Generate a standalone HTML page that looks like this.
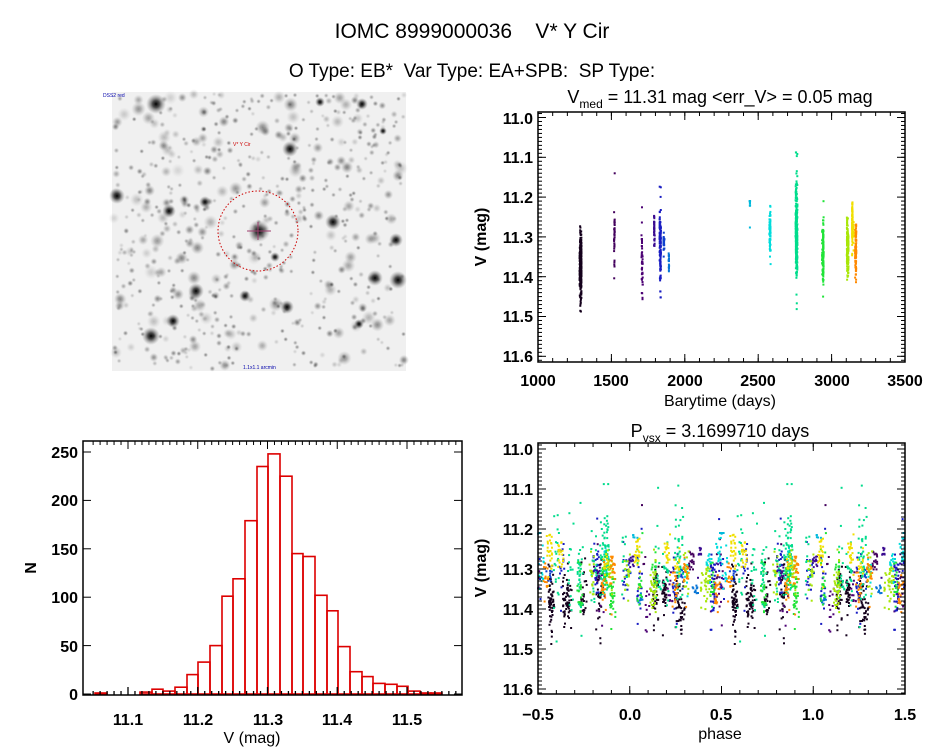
<!DOCTYPE html>
<html><head><meta charset="utf-8"><style>
html,body{margin:0;padding:0;background:#fff;}
svg{display:block;font-family:"Liberation Sans",sans-serif;}
.t{font-size:16px;fill:#000;}
</style></head><body>
<svg id="s" width="944" height="747" viewBox="0 0 944 747" xmlns="http://www.w3.org/2000/svg">
<defs>
<radialGradient id="st"><stop offset="0" stop-color="#000" stop-opacity="1"/><stop offset="0.35" stop-color="#222" stop-opacity="0.8"/><stop offset="1" stop-color="#888" stop-opacity="0"/></radialGradient>
</defs>
<rect width="944" height="747" fill="#fff"/>
<text x="472" y="38" text-anchor="middle" font-size="21" style="white-space:pre">IOMC 8999000036    V* Y Cir</text>
<text x="472" y="77" text-anchor="middle" font-size="19" style="white-space:pre">O Type: EB*  Var Type: EA+SPB:  SP Type:</text>
<rect x="112" y="92" width="294" height="279" fill="#f0f0f0"/>
<g id="stars"></g>
<circle cx="258" cy="231" r="40" fill="none" stroke="#c00" stroke-width="1" stroke-dasharray="1.5,2"/>
<line x1="247" y1="231" x2="271" y2="231" stroke="#a04070" stroke-width="1"/>
<line x1="258" y1="222" x2="258" y2="240" stroke="#a04070" stroke-width="1"/>
<text x="233" y="146" font-size="5" fill="#c00">V* Y Cir</text>
<text x="103" y="97" font-size="5" fill="#00a">DSS2 red</text>
<text x="243" y="369" font-size="5" fill="#00a">1.1x1.1 arcmin</text>

<text x="720" y="103" text-anchor="middle" font-size="18">V<tspan font-size="12" dy="5">med</tspan><tspan dy="-5"> = 11.31 mag &lt;err_V&gt; = 0.05 mag</tspan></text>
<g class="t" text-anchor="end" font-weight="bold">
<text x="533" y="124">11.0</text><text x="533" y="163">11.1</text><text x="533" y="203">11.2</text><text x="533" y="243">11.3</text><text x="533" y="283">11.4</text><text x="533" y="322">11.5</text><text x="533" y="362">11.6</text>
</g>
<g class="t" text-anchor="middle" font-weight="bold">
<text x="538" y="386">1000</text><text x="611" y="386">1500</text><text x="685" y="386">2000</text><text x="758" y="386">2500</text><text x="832" y="386">3000</text><text x="905" y="386">3500</text>
</g>
<text x="720" y="406" text-anchor="middle" class="t">Barytime (days)</text>
<text transform="translate(486,237) rotate(-90)" text-anchor="middle" class="t" font-weight="bold">V (mag)</text>

<text x="720" y="437" text-anchor="middle" font-size="18">P<tspan font-size="12" dy="5">vsx</tspan><tspan dy="-5"> = 3.1699710 days</tspan></text>
<g class="t" text-anchor="end" font-weight="bold">
<text x="533" y="455">11.0</text><text x="533" y="495">11.1</text><text x="533" y="535">11.2</text><text x="533" y="575">11.3</text><text x="533" y="615">11.4</text><text x="533" y="655">11.5</text><text x="533" y="695">11.6</text>
</g>
<g class="t" text-anchor="middle" font-weight="bold">
<text x="538" y="720">−0.5</text><text x="630" y="720">0.0</text><text x="721" y="720">0.5</text><text x="813" y="720">1.0</text><text x="905" y="720">1.5</text>
</g>
<text x="720" y="739" text-anchor="middle" class="t">phase</text>
<text transform="translate(486,568) rotate(-90)" text-anchor="middle" class="t" font-weight="bold">V (mag)</text>

<g class="t" text-anchor="end" font-weight="bold">
<text x="78" y="700">0</text><text x="78" y="652">50</text><text x="78" y="603">100</text><text x="78" y="555">150</text><text x="78" y="506">200</text><text x="78" y="458">250</text>
</g>
<g class="t" text-anchor="middle" font-weight="bold">
<text x="128" y="725">11.1</text><text x="198" y="725">11.2</text><text x="268" y="725">11.3</text><text x="337" y="725">11.4</text><text x="407" y="725">11.5</text>
</g>
<text x="252" y="743" text-anchor="middle" class="t">V (mag)</text>
<text transform="translate(36,568) rotate(-90)" text-anchor="middle" class="t" font-weight="bold">N</text>

<g id="dyn"></g>
</svg>
<script>
(function(){
var seed=12345;function r(){seed=(seed*1664525+1013904223)%4294967296;return seed/4294967296;}
function rn(){return (r()+r()+r()+r()-2)/1.15;}
var dyn=document.getElementById('dyn'),stars=document.getElementById('stars');
var h='';
var s='';
for(var i=0;i<650;i++){var x=114+r()*290,y=94+r()*275,rad=2.5+Math.pow(r(),4)*5,op=0.12+r()*0.35;
s+='<circle cx="'+x.toFixed(1)+'" cy="'+y.toFixed(1)+'" r="'+rad.toFixed(1)+'" fill="url(#st)" opacity="'+op.toFixed(2)+'"/>';}
var big=[[156,104,10],[259,231,11],[117,196,8],[290,149,8],[333,222,8],[196,291,8],[173,321,7],[151,336,9],[375,278,8],[396,240,7],[398,280,9],[169,211,7],[245,296,6],[287,307,7],[205,202,6],[362,104,6],[320,102,5],[275,257,5],[359,324,5],[383,131,4]];
big.forEach(function(b){s+='<circle cx="'+b[0]+'" cy="'+b[1]+'" r="'+b[2]+'" fill="url(#st)"/>';});
stars.innerHTML=s;
function frame(x0,y0,x1,y1){h+='<rect x="'+x0+'" y="'+y0+'" width="'+(x1-x0)+'" height="'+(y1-y0)+'" fill="none" stroke="#000" stroke-width="1.5"/>';}
function xt(x0,x1,y0,y1,v0,v1,step,len){for(var v=v0;v<=v1+1e-9;v+=step){var x=x0+(v-v0)/(v1-v0)*(x1-x0);h+='<line x1="'+x+'" y1="'+y1+'" x2="'+x+'" y2="'+(y1-len)+'" stroke="#000"/><line x1="'+x+'" y1="'+y0+'" x2="'+x+'" y2="'+(y0+len)+'" stroke="#000"/>';}}
function ytk(x0,x1,pos,len){pos.forEach(function(y){h+='<line x1="'+x0+'" y1="'+y+'" x2="'+(x0+len)+'" y2="'+y+'" stroke="#000"/><line x1="'+x1+'" y1="'+y+'" x2="'+(x1-len)+'" y2="'+y+'" stroke="#000"/>';});}
function col(f){
var stops=[[0,[0,0,0]],[0.12,[80,0,110]],[0.28,[20,30,200]],[0.42,[0,150,220]],[0.52,[0,220,220]],[0.62,[0,220,120]],[0.72,[40,230,40]],[0.82,[200,230,0]],[0.9,[255,220,0]],[0.96,[255,120,0]],[1,[220,20,0]]];
for(var i=1;i<stops.length;i++){if(f<=stops[i][0]){var a=stops[i-1],b=stops[i],t=(f-a[0])/(b[0]-a[0]);return 'rgb('+[0,1,2].map(function(k){return Math.round(a[1][k]+t*(b[1][k]-a[1][k]));}).join(',')+')';}}return 'rgb(220,20,0)';}
var TX0=538,TX1=905,TY=function(m){return 117.5+(m-11)*398;};
var BY=function(m){return 449+(m-11)*400;};
var BX=function(p){return 538+(p+0.5)*183.5;};
// [t, halfwidth, lo, hi, n, colorfrac, nights]
var cl=[[1290,6,11.25,11.51,300,0.03,10],[1520,3,11.14,11.46,40,0.1,4],[1710,5,11.21,11.54,50,0.13,5],[1795,4,11.24,11.33,35,0.18,4],[1832,5,11.15,11.49,130,0.27,8],[1858,3,11.25,11.35,25,0.32,3],[1890,3,11.32,11.40,20,0.38,2],[2445,2,11.21,11.28,15,0.47,2],[2580,5,11.2,11.37,70,0.52,5],[2760,7,11.05,11.52,260,0.6,12],[2940,6,11.21,11.45,120,0.7,7],[3110,6,11.22,11.45,150,0.8,8],[3145,5,11.18,11.37,120,0.88,6],[3165,4,11.24,11.42,110,0.95,6]];
var P=3.169971;
cl.forEach(function(c){
 var nights=[];for(var k=0;k<c[6];k++)nights.push({t:c[0]+(r()-0.5)*c[1]*2,ph:r(),off:rn()*0.04});
 var cc=col(c[5]);
 for(var i=0;i<c[4];i++){var nt=nights[Math.floor(r()*nights.length)];
  var ph=(nt.ph+(r()-0.5)*0.03+1)%1;
  var m=(c[2]+c[3])/2+nt.off+rn()*(c[3]-c[2])*0.22;
  if(r()<0.08)m=c[2]+r()*(c[3]-c[2]);
  var mm=Math.max(c[2],Math.min(c[3],m));
  var t=nt.t+(r()-0.5)*2;
  h+='<rect x="'+(TX0+(t-1000)/2500*(TX1-TX0)-1).toFixed(1)+'" y="'+(TY(mm)-1).toFixed(1)+'" width="2" height="2" fill="'+cc+'"/>';
  [ph-1,ph,ph+1].forEach(function(p){if(p>=-0.5&&p<=1.5)h+='<rect x="'+(BX(p)-1).toFixed(1)+'" y="'+(BY(mm)-1).toFixed(1)+'" width="2" height="2" fill="'+cc+'"/>';});
 }});
frame(538,112,905,362);xt(538,905,112,362,1000,3500,500,8);xt(538,905,112,362,1000,3500,100,4);
var yp=[],ym=[];for(var k=0;k<=6;k++)yp.push(TY(11+k*0.1));for(var k=-1;k<62;k++){var y=TY(11+k*0.01);if(y>112&&y<362)ym.push(y);}ytk(538,905,yp,8);ytk(538,905,ym,4);
frame(538,443,905,694);xt(538,905,443,694,-0.5,1.5,0.5,8);xt(538,905,443,694,-0.5,1.5,0.1,4);
yp=[];ym=[];for(var k=0;k<=6;k++)yp.push(BY(11+k*0.1));for(var k=-1;k<62;k++){var y=BY(11+k*0.01);if(y>443&&y<694)ym.push(y);}ytk(538,905,yp,8);ytk(538,905,ym,4);
var bars=[[95,107,1],[107,140,0],[140,152,2],[152,163,5],[163,175,3],[175,187,7],[187,198,20],[198,210,33],[210,222,50],[222,233,101],[233,245,119],[245,257,179],[257,268,235],[268,280,248],[280,292,225],[292,303,145],[303,315,142],[315,327,102],[327,338,86],[338,350,49],[350,362,23],[362,373,18],[373,385,11],[385,397,10],[397,408,8],[408,420,3],[420,431,1],[431,442,1]];
bars.forEach(function(b){var y=694-b[2]*242/250;h+='<rect x="'+b[0]+'" y="'+y.toFixed(1)+'" width="'+(b[1]-b[0])+'" height="'+(694-y).toFixed(1)+'" fill="none" stroke="#d00" stroke-width="1.6"/>';});
frame(83,441,462,695);
for(var v=11.05;v<=11.6;v+=0.01){var x=128+(v-11.1)*697.5;if(x>83&&x<462){var big5=Math.abs((v*10)-Math.round(v*10))<0.01;var L=big5?8:4;h+='<line x1="'+x+'" y1="695" x2="'+x+'" y2="'+(695-L)+'" stroke="#000" stroke-width="1.3"/><line x1="'+x+'" y1="441" x2="'+x+'" y2="'+(441+L)+'" stroke="#000"/>';}}
yp=[];for(var k=0;k<=5;k++)yp.push(694-k*50*242/250);ytk(83,462,yp,8);
dyn.innerHTML=h;
})();
</script>
</body></html>
